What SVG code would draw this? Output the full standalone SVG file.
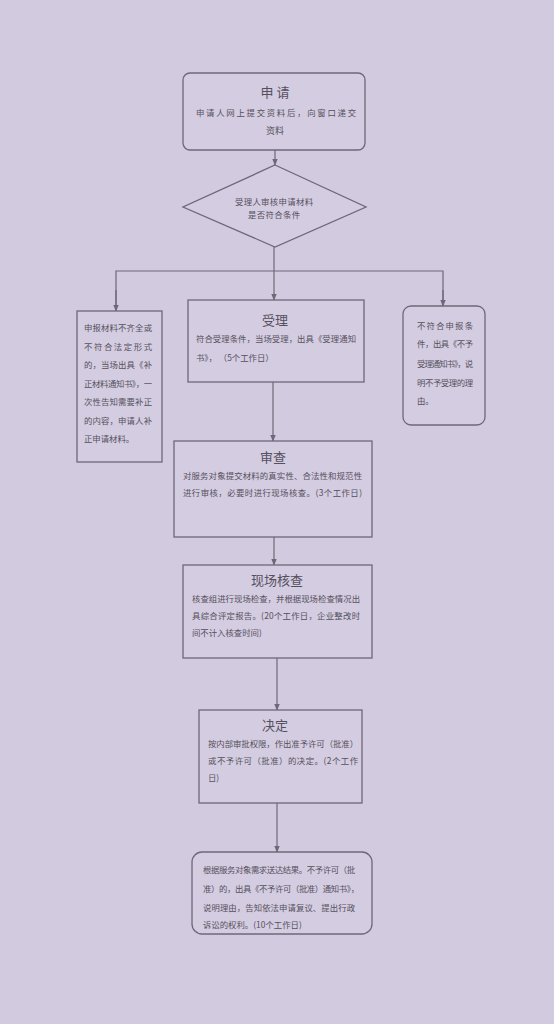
<svg xmlns="http://www.w3.org/2000/svg" width="554" height="1024" viewBox="0 0 554 1024">
<style>
.bg{fill:#d2cadf}
.box{fill:#d4cce0;stroke:#6e6878;stroke-width:1.3}
.ln{fill:none;stroke:#6e6878;stroke-width:1.2}
text{font-family:"Noto Sans CJK SC","Noto Sans",sans-serif;fill:#55505f}
.t{font-size:13px;text-anchor:middle}
.s{font-size:8.4px}
.m{font-size:9px;text-anchor:middle}
</style>
<defs>
<marker id="ah" viewBox="0 0 10 10" refX="9" refY="5" markerWidth="7" markerHeight="7" orient="auto" markerUnits="userSpaceOnUse">
<path d="M0,1 L10,5 L0,9 z" fill="#6e6878"/>
</marker>
</defs>
<rect class="bg" x="0" y="0" width="554" height="1024"/>

<g id="connectors">
<line class="ln" x1="275" y1="150" x2="275" y2="165" marker-end="url(#ah)"/>
<line class="ln" x1="274" y1="247" x2="274" y2="300" marker-end="url(#ah)"/>
<polyline class="ln" points="116,311 116,271 443,271 443,306"/>
<line class="ln" x1="116" y1="290" x2="116" y2="311" marker-end="url(#ah)"/>
<line class="ln" x1="443" y1="290" x2="443" y2="306" marker-end="url(#ah)"/>
<line class="ln" x1="273" y1="382" x2="273" y2="441" marker-end="url(#ah)"/>
<line class="ln" x1="274" y1="537" x2="274" y2="565" marker-end="url(#ah)"/>
<line class="ln" x1="277" y1="658" x2="277" y2="710" marker-end="url(#ah)"/>
<line class="ln" x1="277" y1="803" x2="277" y2="852" marker-end="url(#ah)"/>
</g>

<g id="apply">
<rect class="box" x="183" y="73" width="182" height="77" rx="7"/>
<text class="t" x="275" y="97" font-size="14">申 请</text>
<text class="s" x="196" y="116" font-size="9.6" textLength="160">申请人网上提交资料后，向窗口递交</text>
<text class="m" x="275" y="134" font-size="10">资料</text>
</g>

<g id="check">
<polygon class="box" points="275,165 366,207 275,247 183,207"/>
<text class="s" x="235" y="205" font-size="8.6" textLength="78">受理人审核申请材料</text>
<text class="s" x="248" y="218" font-size="8.6" textLength="52">是否符合条件</text>
</g>

<g id="reject-supplement">
<rect class="box" x="77" y="311" width="85" height="151"/>
<text class="s" x="84" y="331" textLength="68">申报材料不齐全或</text>
<text class="s" x="84" y="350" textLength="68">不符合法定形式</text>
<text class="s" x="84" y="368" textLength="68">的，当场出具《补</text>
<text class="s" x="84" y="387" font-size="7.5" textLength="68">正材料通知书》，一</text>
<text class="s" x="84" y="405" textLength="68">次性告知需要补正</text>
<text class="s" x="84" y="424" textLength="68">的内容，申请人补</text>
<text class="s" x="84" y="442">正申请材料。</text>
</g>

<g id="accept">
<rect class="box" x="188" y="300" width="176" height="82"/>
<text class="t" x="275" y="325">受理</text>
<text class="s" x="196" y="342" textLength="160">符合受理条件，当场受理，出具《受理通知</text>
<text class="s" x="196" y="361">书》，  （5个工作日）</text>
</g>

<g id="reject">
<rect class="box" x="403" y="306" width="82" height="119" rx="8"/>
<text class="s" x="417" y="329" textLength="56">不符合申报条</text>
<text class="s" x="417" y="347" font-size="7.9" textLength="56">件，出具《不予</text>
<text class="s" x="417" y="367" font-size="7" textLength="56">受理通知书》，说</text>
<text class="s" x="417" y="386" font-size="7.9" textLength="56">明不予受理的理</text>
<text class="s" x="417" y="404">由。</text>
</g>

<g id="review">
<rect class="box" x="174" y="441" width="198" height="96"/>
<text class="t" x="273" y="462">审查</text>
<text class="s" x="183" y="479" textLength="179">对服务对象提交材料的真实性、合法性和规范性</text>
<text class="s" x="183" y="496" textLength="179">进行审核，必要时进行现场核查。(3个工作日)</text>
</g>

<g id="onsite">
<rect class="box" x="183" y="565" width="189" height="93"/>
<text class="t" x="277" y="585">现场核查</text>
<text class="s" x="192" y="602" textLength="168">核查组进行现场检查，并根据现场检查情况出</text>
<text class="s" x="192" y="619" textLength="168">具综合评定报告。(20个工作日，企业整改时</text>
<text class="s" x="192" y="636">间不计入核查时间)</text>
</g>

<g id="decide">
<rect class="box" x="199" y="710" width="163" height="93"/>
<text class="t" x="275" y="730">决定</text>
<text class="s" x="208" y="747" font-size="8.2" textLength="150">按内部审批权限，作出准予许可（批准）</text>
<text class="s" x="208" y="764" textLength="150">或不予许可（批准）的决定。(2个工作</text>
<text class="s" x="208" y="781">日)</text>
</g>

<g id="deliver">
<rect class="box" x="192" y="852" width="180" height="82" rx="10"/>
<text class="s" x="203" y="873" font-size="7.9" textLength="152">根据服务对象需求送达结果。不予许可（批</text>
<text class="s" x="203" y="892" font-size="7.7" textLength="156">准）的，出具《不予许可（批准）通知书》，</text>
<text class="s" x="203" y="911" textLength="152">说明理由，告知依法申请复议、提出行政</text>
<text class="s" x="203" y="928">诉讼的权利。(10个工作日)</text>
</g>
</svg>
